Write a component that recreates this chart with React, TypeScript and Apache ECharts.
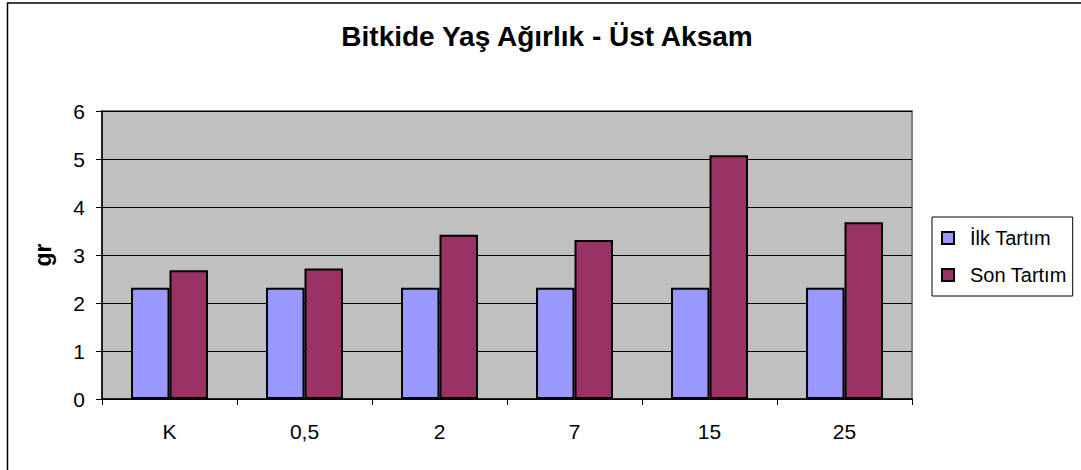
import React, { useEffect, useRef } from "react";
import * as echarts from "echarts";

const categories = ["K", "0,5", "2", "7", "15", "25"];
const ilkTartim = [2.32, 2.32, 2.32, 2.32, 2.32, 2.32];
const sonTartim = [2.68, 2.72, 3.42, 3.31, 5.08, 3.68];
const seriesNames = ["İlk Tartım", "Son Tartım"];
const titleText = "Bitkide Yaş Ağırlık - Üst Aksam";
const yAxisName = "gr";

const FONT = "'Liberation Sans', Arial, sans-serif";

export default function App() {
  const ref = useRef<HTMLDivElement>(null);
  useEffect(() => {
    if (!ref.current) return;
    const chart = echarts.init(ref.current, undefined, { renderer: "svg" });
    chart.setOption({
      animation: false,
      backgroundColor: "#ffffff",
      title: {
        text: titleText,
        left: 547,
        textAlign: "center",
        top: 22,
        padding: 0,
        textStyle: { fontFamily: FONT, fontSize: 28, fontWeight: "bold", color: "#000" },
      },
      legend: {
        orient: "vertical",
        left: 932,
        top: 217,
        padding: [10, 6, 10, 9],
        itemWidth: 12,
        itemHeight: 12,
        itemGap: 15,
        borderColor: "#000",
        borderWidth: 1,
        icon: "rect",
        textStyle: {
          fontFamily: FONT,
          fontSize: 20,
          color: "#000",
          lineHeight: 22,
          padding: [0, 0, 0, 11],
        },
        data: seriesNames,
      },
      grid: {
        left: 102,
        right: 169,
        top: 111,
        bottom: 71,
        show: true,
        backgroundColor: "#C0C0C0",
        borderColor: "#808080",
        borderWidth: 2,
      },
      xAxis: {
        type: "category",
        data: categories,
        axisLine: { show: true, lineStyle: { color: "#000", width: 1.5 } },
        axisTick: { show: true, length: 6, lineStyle: { color: "#000" } },
        axisLabel: { fontFamily: FONT, fontSize: 21, color: "#000", margin: 22 },
      },
      yAxis: {
        type: "value",
        min: 0,
        max: 6,
        interval: 1,
        name: yAxisName,
        nameLocation: "middle",
        nameRotate: 90,
        nameGap: 48,
        nameTextStyle: { fontFamily: FONT, fontSize: 23, fontWeight: "bold", color: "#000" },
        axisLine: { show: true, lineStyle: { color: "#000", width: 1.5 } },
        axisTick: { show: true, length: 6, lineStyle: { color: "#000" } },
        axisLabel: { fontFamily: FONT, fontSize: 21, color: "#000", margin: 17 },
        splitLine: { show: true, lineStyle: { color: "#000", width: 1 } },
      },
      series: [
        {
          name: seriesNames[0],
          type: "bar",
          data: ilkTartim,
          barGap: "0%",
          barCategoryGap: "43%",
          itemStyle: { color: "#9999FF", borderColor: "#000", borderWidth: 2 },
        },
        {
          name: seriesNames[1],
          type: "bar",
          data: sonTartim,
          barGap: "0%",
          barCategoryGap: "43%",
          itemStyle: { color: "#993366", borderColor: "#000", borderWidth: 2 },
        },
      ],
      graphic: [
        {
          type: "rect",
          shape: { x: 7.5, y: 3, width: 2000, height: 2000 },
          style: { fill: "none", stroke: "#000", lineWidth: 1.5 },
          silent: true,
        },
      ],
    });
    return () => chart.dispose();
  }, []);
  return (
    <div
      ref={ref}
      style={{ position: "fixed", left: 0, top: 0, width: 1081, height: 470 }}
    />
  );
}
